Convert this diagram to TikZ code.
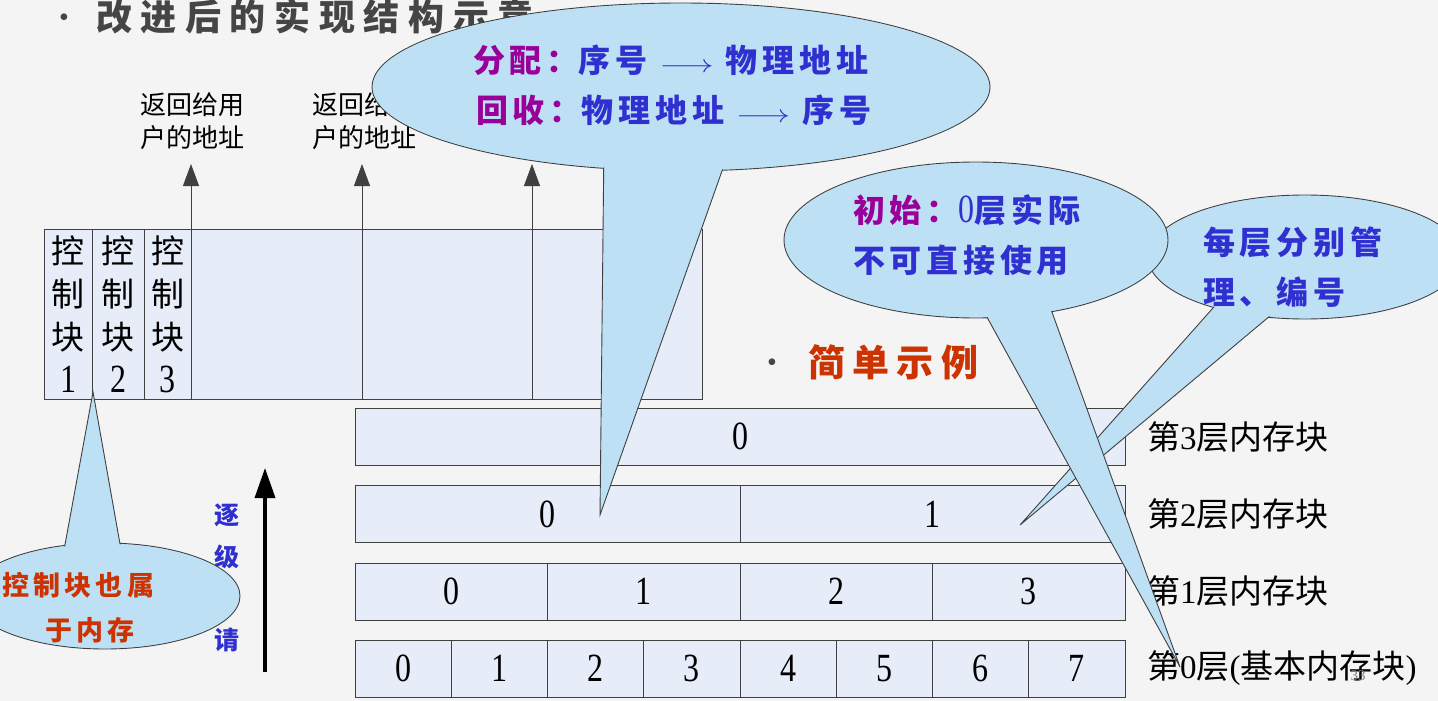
\documentclass[tikz,border=0pt]{standalone}
\usepackage{fontspec}
\setmainfont{Liberation Serif}
\newfontfamily\cjk{Noto Sans CJK SC}
\newfontfamily\numfont{Liberation Serif}[FakeStretch=0.8]
\usetikzlibrary{arrows.meta,shapes.geometric}
\definecolor{bg}{HTML}{F4F4F4}
\definecolor{cfill}{HTML}{BDE0F5}
\definecolor{mfill}{HTML}{E7EDF8}
\definecolor{tblue}{HTML}{3030D0}
\definecolor{tpurple}{HTML}{990099}
\definecolor{tred}{HTML}{CC3300}
\definecolor{tgray}{HTML}{454545}
\definecolor{edge}{HTML}{404040}
\newcommand{\fsz}[2]{\fontsize{#1}{#2}\selectfont}
\newcommand{\larr}{{\mdseries\scalebox{1.35}[1]{$\longrightarrow$}}}
\begin{document}
\begin{tikzpicture}[x=1pt,y=-1pt,
  box/.style={draw=edge, fill=mfill, line width=0.9pt, inner sep=0pt, outer sep=0pt},
  bubble/.style={ellipse, draw=edge, fill=cfill, line width=0.9pt, inner sep=0pt, outer sep=0pt},
  bubblein/.style={ellipse, fill=cfill, inner sep=0pt, outer sep=0pt},
  tailst/.style={draw=edge, fill=cfill, line width=0.9pt, line join=miter},
  uparrow/.style={draw=edge, line width=0.9pt, -{Triangle[length=22pt,width=16pt]}},
  bigarrow/.style={draw=black, line width=3.5pt, -{Triangle[length=30pt,width=20pt]}},
  txt/.style={inner sep=0pt, outer sep=0pt},
  cellnum/.style={font=\numfont\fsz{40}{40}},
  layerlbl/.style={txt, anchor=west, font=\fsz{33}{33}},
  calltxt/.style={txt, anchor=west, text=tblue, font=\cjk\bfseries\fsz{32}{32}\addfontfeature{LetterSpace=15}},
]
\fill[bg] (0,0) rectangle (1438,701);
\useasboundingbox (0,0) rectangle (1438,701);
\clip (0,0) rectangle (1438,701);

% title
\node[txt, text=tgray, font=\fsz{28}{28}] (tb) at (64,20) {\textbullet};
\node[txt, anchor=west, text=tgray, font=\cjk\bfseries\fsz{36}{36}\addfontfeature{LetterSpace=24}] (title) at (96,17) {改进后的实现结构示意};

% memory block
\node[box, minimum width=48, minimum height=170, align=center, font=\cjk\fsz{33}{43}] (m1) at (68,314) {控\\制\\块\\{\numfont\fsz{40}{43}1}};
\node[box, minimum width=52, minimum height=170, align=center, font=\cjk\fsz{33}{43}] (m2) at (118,314) {控\\制\\块\\{\numfont\fsz{40}{43}2}};
\node[box, minimum width=47, minimum height=170, align=center, font=\cjk\fsz{33}{43}] (m3) at (167.5,314) {控\\制\\块\\{\numfont\fsz{40}{43}3}};
\node[box, minimum width=171, minimum height=170] (m4) at (276.5,314) {};
\node[box, minimum width=170, minimum height=170] (m5) at (447,314) {};
\node[box, minimum width=170, minimum height=170] (m6) at (617,314) {};

\coordinate (a1) at (191,164);
\coordinate (a2) at (362,164);
\coordinate (a3) at (532,164);
\draw[uparrow] (m4.north west) -- (a1);
\draw[uparrow] (m5.north west) -- (a2);
\draw[uparrow] (m6.north west) -- (a3);
\node[txt, align=left, font=\cjk\fsz{26}{33}] (r1) at (192,121) {返回给用\\户的地址};
\node[txt, align=left, font=\cjk\fsz{26}{33}] (r2) at (364,121) {返回给用\\户的地址};

% simple example heading
\node[txt, text=tgray, font=\fsz{28}{28}] (sb) at (772,365) {\textbullet};
\node[txt, anchor=west, text=tred, font=\cjk\bfseries\fsz{37}{37}\addfontfeature{LetterSpace=20}] (simple) at (808,362) {简单示例};

% layers
\node[box, cellnum, minimum width=770, minimum height=57] (L3) at (740,436.5) {0};
\node[box, cellnum, minimum width=385, minimum height=57] (L2a) at (547.5,514) {0};
\node[box, cellnum, minimum width=385, minimum height=57] (L2b) at (932.5,514) {1};
\foreach \i in {0,...,3}{
  \node[box, cellnum, minimum width=192.5, minimum height=57] (L1\i) at ({355+192.5*(\i+0.5)},591.5) {\i};
}
\foreach \i in {0,...,7}{
  \node[box, cellnum, minimum width=96.25, minimum height=57] (L0\i) at ({355+96.25*(\i+0.5)},668.5) {\i};
}
\node[layerlbl] (t3) at (1147,437) {{\cjk 第}3{\cjk 层内存块}};
\node[layerlbl] (t2) at (1147,514) {{\cjk 第}2{\cjk 层内存块}};
\node[layerlbl] (t1) at (1147,591) {{\cjk 第}1{\cjk 层内存块}};
\node[layerlbl] (t0) at (1147,668) {{\cjk 第}0{\cjk 层}({\cjk 基本内存块})};
\node[txt, text=gray, font=\fsz{15}{15}] (pg) at (1358,676) {33};

% request arrow
\coordinate (ba) at (265,672);
\coordinate (bb) at (265,468);
\draw[bigarrow] (ba) -- (bb);
\node[txt, text=tblue, font=\cjk\bfseries\fsz{25}{25}] (q1) at (227,515) {逐};
\node[txt, text=tblue, font=\cjk\bfseries\fsz{25}{25}] (q2) at (227,557) {级};
\node[txt, text=tblue, font=\cjk\bfseries\fsz{25}{25}] (q3) at (227,640) {请};

% callout: control block
\node[bubble, minimum width=270, minimum height=106] (c4) at (105,596) {};
\coordinate (c4tip) at (93,392);
\filldraw[tailst] (60,572) -- (c4tip) -- (125,572) -- cycle;
\node[bubblein, minimum width=268, minimum height=104] (c4i) at (c4.center) {};
\node[txt, anchor=west, text=tred, font=\cjk\bfseries\fsz{27}{27}\addfontfeature{LetterSpace=16}] (c4a) at (2,585) {控制块也属};
\node[txt, anchor=west, text=tred, font=\cjk\bfseries\fsz{27}{27}\addfontfeature{LetterSpace=16}] (c4b) at (45,630) {于内存};

% callout: each layer
\node[bubble, minimum width=314, minimum height=124] (c3) at (1305,257) {};
\coordinate (c3tip) at (1020,525);
\filldraw[tailst] (1229,290) -- (c3tip) -- (1301,290) -- cycle;
\node[bubblein, minimum width=312, minimum height=122] (c3i) at (c3.center) {};
\node[calltxt] (c3a) at (1203,242) {每层分别管};
\node[calltxt] (c3b) at (1203,292) {理、编号};

% callout: initial
\node[bubble, minimum width=384, minimum height=156] (c2) at (976,240) {};
\coordinate (c2tip) at (1180,667);
\filldraw[tailst] (972,290) -- (c2tip) -- (1044,290) -- cycle;
\node[bubblein, minimum width=382, minimum height=154] (c2i) at (c2.center) {};
\node[calltxt] (c2a) at (853,210) {\textcolor{tpurple}{初始：}{\numfont\mdseries\fsz{40}{32}0}层实际};
\node[calltxt] (c2b) at (853,260) {不可直接使用};

% callout: big
\node[bubble, minimum width=618, minimum height=168] (c1) at (681,87) {};
\coordinate (c1tip) at (600,515);
\filldraw[tailst] (604,140) -- (c1tip) -- (733,140) -- cycle;
\node[bubblein, minimum width=616, minimum height=166] (c1i) at (c1.center) {};
\node[calltxt] (c1a) at (473,60) {\textcolor{tpurple}{分配：}序号 \larr\ 物理地址};
\node[calltxt] (c1b) at (476,110) {\textcolor{tpurple}{回收：}物理地址 \larr\ 序号};
\end{tikzpicture}
\end{document}
